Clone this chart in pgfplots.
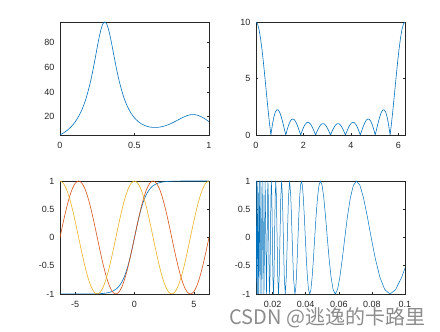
\documentclass[border=0pt]{standalone}
\usepackage{pgfplots}
\pgfplotsset{compat=1.18}
\usepackage{fontspec}
\setmainfont{Liberation Sans}
\newfontfamily\cjk{Noto Sans CJK SC}
\definecolor{mblue}{rgb}{0,0.447,0.741}
\definecolor{morange}{rgb}{0.85,0.325,0.098}
\definecolor{myellow}{rgb}{0.929,0.694,0.125}
\definecolor{maxis}{rgb}{0.15,0.15,0.15}
\pgfplotsset{
  mstyle/.style={
    scale only axis, width=149pt, height=113pt, anchor=south west,
    axis line style={draw=maxis, line width=0.6pt},
    tick style={draw=maxis, line width=0.5pt},
    tick align=inside, major tick length=1.5pt,
    xticklabel style={font=\fontsize{9}{10}\selectfont, text=maxis, yshift=-4pt},
    yticklabel style={font=\fontsize{9}{10}\selectfont, text=maxis, xshift=-2pt},
    /pgf/number format/assume math mode=true,
    every axis plot/.append style={line width=0.6pt, line join=round},
  }
}
\begin{document}
\begin{tikzpicture}[x=1pt,y=1pt]
\path[use as bounding box] (0,0) rectangle (440,332);
% ---------- top left: humps ----------
\begin{axis}[mstyle, at={(60pt,197pt)}, xmin=0, xmax=1, ymin=5.1765, ymax=96.5,
  xtick={0,0.5,1}, xticklabels={0,0.5,1}, ytick={20,40,60,80}, yticklabels={20,40,60,80}]
\addplot[mblue, smooth] table {
0 5.1765
0.025 6.920
0.05 9.105
0.075 11.883
0.1 15.471
0.125 20.176
0.15 26.429
0.175 34.792
0.2 45.887
0.2125 52.588
0.225 60.018
0.2375 67.998
0.25 76.162
0.2625 83.911
0.275 90.44
0.2875 94.871
0.3 96.5
0.3125 95.058
0.325 90.816
0.3375 84.477
0.35 76.920
0.3625 68.950
0.375 61.168
0.3875 53.941
0.4 47.448
0.425 36.789
0.45 28.893
0.475 23.148
0.5 19.0
0.525 16.031
0.55 13.947
0.575 12.546
0.6 11.692
0.625 11.297
0.65 11.303
0.675 11.673
0.7 12.382
0.725 13.405
0.75 14.706
0.775 16.222
0.8 17.846
0.825 19.419
0.85 20.729
0.875 21.551
0.9 21.703
0.925 21.111
0.95 19.841
0.975 18.066
1 16.0
};
\end{axis}
% ---------- top right ----------
\begin{axis}[mstyle, at={(256pt,197pt)}, xmin=0, xmax=6.2832, ymin=0, ymax=10,
  xtick={0,2,4,6}, xticklabels={0,2,4,6}, ytick={0,5,10}, yticklabels={0,5,10}]
\addplot[mblue] table {
0 10
0.0628 9.838
0.1257 9.361
0.1885 8.597
0.2513 7.588
0.3142 6.392
0.3770 5.076
0.4398 3.709
0.5027 2.364
0.5655 1.108
0.6283 0
0.6912 0.912
0.7540 1.597
0.8168 2.037
0.8796 2.234
0.9425 2.203
1.0053 1.974
1.0681 1.589
1.1310 1.097
1.1938 0.550
1.2566 0
1.3195 0.504
1.3823 0.922
1.4451 1.223
1.5080 1.389
1.5708 1.414
1.6336 1.305
1.6965 1.079
1.7593 0.763
1.8221 0.391
1.8850 0
1.9478 0.374
2.0106 0.696
2.0735 0.940
2.1363 1.085
2.1991 1.122
2.2619 1.051
2.3248 0.882
2.3876 0.632
2.4504 0.328
2.5133 0
2.5761 0.322
2.6389 0.607
2.7018 0.829
2.7646 0.968
2.8274 1.012
2.8903 0.959
2.9531 0.813
3.0159 0.589
3.0788 0.309
3.1416 0
3.2044 0.309
3.2673 0.589
3.3301 0.813
3.3929 0.959
3.4558 1.012
3.5186 0.968
3.5814 0.829
3.6442 0.607
3.7071 0.322
3.7699 0
3.8327 0.328
3.8956 0.632
3.9584 0.882
4.0212 1.051
4.0841 1.122
4.1469 1.085
4.2097 0.940
4.2726 0.696
4.3354 0.374
4.3982 0
4.4611 0.391
4.5239 0.763
4.5867 1.079
4.6496 1.305
4.7124 1.414
4.7752 1.389
4.8381 1.223
4.9009 0.922
4.9637 0.504
5.0265 0
5.0894 0.550
5.1522 1.097
5.2150 1.589
5.2779 1.974
5.3407 2.203
5.4035 2.234
5.4664 2.037
5.5292 1.597
5.5920 0.912
5.6549 0
5.7177 1.108
5.7805 2.364
5.8434 3.709
5.9062 5.076
5.9690 6.392
6.0319 7.588
6.0947 8.597
6.1575 9.361
6.2204 9.838
6.2832 10
};
\end{axis}
% ---------- bottom left ----------
\pgfplotstableread{
x s c t
-6.2832 0 1 -1.0000
-6.0214 0.2588 0.9659 -0.99999
-5.7596 0.5 0.8660 -0.99998
-5.4978 0.7071 0.7071 -0.99997
-5.2360 0.8660 0.5 -0.99994
-4.9742 0.9659 0.2588 -0.99990
-4.7124 1 0 -0.99984
-4.4506 0.9659 -0.2588 -0.99973
-4.1888 0.8660 -0.5 -0.99954
-3.9270 0.7071 -0.7071 -0.99922
-3.6652 0.5 -0.8660 -0.99869
-3.4034 0.2588 -0.9659 -0.99779
-3.1416 0 -1 -0.99627
-2.8798 -0.2588 -0.9659 -0.99372
-2.6180 -0.5 -0.8660 -0.98941
-2.3562 -0.7071 -0.7071 -0.98219
-2.0944 -0.8660 -0.5 -0.97012
-1.8326 -0.9659 -0.2588 -0.95007
-1.5708 -1 0 -0.91715
-1.3090 -0.9659 0.2588 -0.86393
-1.0472 -0.8660 0.5 -0.78071
-0.7854 -0.7071 0.7071 -0.65579
-0.5236 -0.5 0.8660 -0.48047
-0.2618 -0.2588 0.9659 -0.25597
0 0 1 0
0.2618 0.2588 0.9659 0.25597
0.5236 0.5 0.8660 0.48047
0.7854 0.7071 0.7071 0.65579
1.0472 0.8660 0.5 0.78071
1.3090 0.9659 0.2588 0.86393
1.5708 1 0 0.91715
1.8326 0.9659 -0.2588 0.95007
2.0944 0.8660 -0.5 0.97012
2.3562 0.7071 -0.7071 0.98219
2.6180 0.5 -0.8660 0.98941
2.8798 0.2588 -0.9659 0.99372
3.1416 0 -1 0.99627
3.4034 -0.2588 -0.9659 0.99779
3.6652 -0.5 -0.8660 0.99869
3.9270 -0.7071 -0.7071 0.99922
4.1888 -0.8660 -0.5 0.99954
4.4506 -0.9659 -0.2588 0.99973
4.7124 -1 0 0.99984
4.9742 -0.9659 0.2588 0.99990
5.2360 -0.8660 0.5 0.99994
5.4978 -0.7071 0.7071 0.99997
5.7596 -0.5 0.8660 0.99998
6.0214 -0.2588 0.9659 0.99999
6.2832 0 1 1.0000
}\trig
\begin{axis}[mstyle, at={(60pt,38pt)}, xmin=-6.2832, xmax=6.2832, ymin=-1, ymax=1,
  xtick={-5,0,5}, xticklabels={-5,0,5}, ytick={-1,-0.5,0,0.5,1}, yticklabels={-1,-0.5,0,0.5,1}]
\addplot[mblue, smooth] table[x=x, y=t] {\trig};
\addplot[morange, smooth] table[x=x, y=s] {\trig};
\addplot[myellow, smooth] table[x=x, y=c] {\trig};
\end{axis}
% ---------- bottom right: sin(1/x) ----------
\begin{axis}[mstyle, at={(256pt,38pt)}, xmin=0.01, xmax=0.1, ymin=-1, ymax=1,
  xtick={0.02,0.04,0.06,0.08,0.1}, xticklabels={0.02,0.04,0.06,0.08,0.1},
  ytick={-1,-0.5,0,0.5,1}, yticklabels={-1,-0.5,0,0.5,1}]
\addplot[mblue, line width=0.5pt] table {
0.1 -0.5440
0.097942 -0.7071
0.094314 -0.9239
0.090946 -1
0.087810 -0.9239
0.084883 -0.7071
0.082145 -0.3827
0.079577 0
0.077166 0.3827
0.074896 0.7071
0.072756 0.9239
0.070736 1
0.068824 0.9239
0.067013 0.7071
0.065294 0.3827
0.063662 0
0.062109 -0.3827
0.060631 -0.7071
0.059221 -0.9239
0.057875 -1
0.056588 -0.9239
0.055358 -0.7071
0.054180 -0.3827
0.053052 0
0.051969 0.3827
0.050930 0.7071
0.049931 0.9239
0.048971 1
0.048047 0.9239
0.047157 0.7071
0.046300 0.3827
0.045473 0
0.044675 -0.3827
0.043905 -0.7071
0.043161 -0.9239
0.042441 -1
0.041746 -0.9239
0.041072 -0.7071
0.040420 -0.3827
0.039789 0
0.039177 0.3827
0.038583 0.7071
0.038007 0.9239
0.037448 1
0.036906 0.9239
0.036378 0.7071
0.035866 0.3827
0.035368 0
0.034883 -0.3827
0.034412 -0.7071
0.033953 -0.9239
0.033506 -1
0.032647 -0.7071
0.031831 0
0.031055 0.7071
0.030315 1
0.029610 0.7071
0.028937 0
0.028294 -0.7071
0.027679 -1
0.027090 -0.7071
0.026526 0
0.025985 0.7071
0.025465 1
0.024966 0.7071
0.024485 0
0.024023 -0.7071
0.023578 -1
0.023150 -0.7071
0.022736 0
0.022338 0.7071
0.021952 1
0.021580 0.7071
0.021221 0
0.020873 -0.7071
0.020536 -1
0.020210 -0.7071
0.019894 0
0.019588 0.7071
0.019292 1
0.019004 0.7071
0.018724 0
0.018453 -0.7071
0.018189 -1
0.017933 -0.7071
0.017684 0
0.017442 0.7071
0.017206 1
0.016977 0.7071
0.016753 0
0.016324 -1
0.015915 0
0.015527 1
0.015158 0
0.014805 -1
0.014469 0
0.014147 1
0.013840 0
0.013545 -1
0.013263 0
0.012992 1
0.012732 0
0.012483 -1
0.012243 0
0.012012 1
0.011789 0
0.011575 -1
0.011368 0
0.011169 1
0.010976 0
0.010790 -1
0.010610 0
0.010436 1
0.010268 0
0.010105 -1
0.01 -0.5064
};
\end{axis}
\node[font=\cjk\fontsize{20}{22}\selectfont, text=black!45] at (327.5,14) {CSDN @逃逸的卡路里};
\end{tikzpicture}
\end{document}
